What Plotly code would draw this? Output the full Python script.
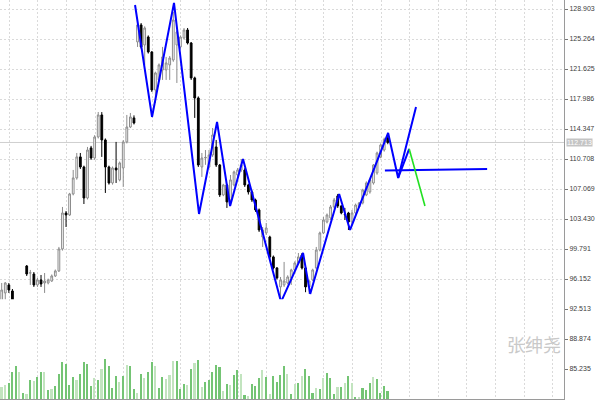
import plotly.graph_objects as go

# ---- data ----
opens = [92.40,94.46,95.43,94.70,92.88,91.79,92.03,97.73,96.88,96.76,95.43,96.04,95.67,95.67,95.91,96.52,97.13,99.80,104.16,103.92,
         106.47,108.41,110.96,109.74,105.98,112.05,110.83,113.38,116.05,113.02,109.74,107.80,109.62,108.17,109.62,112.78,114.59,115.69,124.91,126.97,
         124.54,125.51,123.69,119.08,120.30,121.51,121.51,122.12,122.72,124.54,124.30,125.39,126.36,124.78,120.54,118.11,109.74,110.83,109.74,111.20,
         112.17,109.98,106.35,107.56,105.74,107.56,108.77,109.38,109.38,107.56,106.71,105.74,104.53,101.25,101.74,101.25,98.83,97.49,95.19,95.43,
         95.67,96.28,97.25,98.10,99.07,97.49,95.19,96.04,97.49,99.67,101.74,103.07,103.56,104.89,106.23,105.01,104.00,104.16,103.07,104.16,
         104.89,105.38,106.35,106.71,107.80,109.02,110.96,111.80,113.26]
highs = [95.67,95.79,95.67,94.94,92.90,92.27,92.15,97.85,97.25,97.00,96.28,96.64,96.88,96.20,96.70,97.30,100.04,104.89,104.40,106.60,
         109.38,111.44,111.44,109.90,112.17,112.30,113.60,116.41,116.40,113.20,109.90,109.80,112.78,110.40,113.00,116.05,116.29,116.00,127.21,127.20,
         126.80,125.70,123.80,121.30,122.30,124.30,123.09,123.20,128.54,126.30,125.70,126.60,126.60,124.90,120.70,118.30,111.44,111.80,111.80,114.47,
         113.02,110.10,107.70,107.70,108.77,109.30,109.62,110.71,109.60,107.70,106.90,105.90,104.70,102.46,102.95,101.40,99.00,97.60,96.40,98.22,
         96.60,97.40,98.30,99.31,99.31,97.60,96.00,97.40,100.04,101.90,103.68,104.10,105.13,105.98,106.47,105.10,104.77,104.30,104.53,105.30,
         105.50,107.10,108.00,108.30,110.10,111.60,112.60,113.30,113.87]
lows = [92.03,93.61,94.46,92.40,91.18,89.97,91.95,96.52,95.43,95.19,95.19,95.19,94.46,95.50,95.80,96.40,97.00,99.60,102.46,103.80,
        106.30,108.20,109.50,105.25,105.80,110.60,110.60,113.20,110.96,106.59,107.60,107.60,107.80,108.00,107.32,112.60,114.46,114.90,124.30,124.10,
        122.12,123.50,118.84,117.50,120.10,120.30,120.30,120.30,122.50,119.93,124.10,125.20,124.60,120.30,115.69,109.74,108.53,110.00,109.60,110.96,
        109.74,106.10,106.20,104.77,105.13,107.40,108.53,109.14,107.32,106.40,105.50,104.30,101.86,100.04,101.49,98.60,97.30,96.10,93.61,95.19,
        95.50,95.43,97.10,98.00,97.30,94.55,94.34,95.90,97.30,99.50,101.60,102.90,103.31,104.70,104.77,104.00,103.31,102.10,102.80,104.00,
        104.80,105.20,106.20,106.50,107.60,108.80,110.80,111.60,112.50]
closes = [94.82,95.67,94.82,92.76,91.55,92.03,92.05,96.76,96.90,95.43,96.04,95.55,95.91,96.04,96.52,97.13,99.80,104.16,103.92,106.47,
          108.41,110.96,109.74,105.98,111.80,110.83,113.38,116.05,113.02,109.74,107.80,109.62,109.38,110.23,112.78,114.59,115.81,115.08,126.97,124.30,
          126.60,123.69,119.08,121.15,122.12,123.09,122.36,122.96,127.57,126.12,125.51,126.36,124.78,120.54,118.11,109.98,110.83,110.90,111.20,113.62,
          109.98,106.35,107.56,105.50,108.17,109.14,109.38,109.98,107.56,106.71,105.74,104.53,102.10,102.10,102.34,98.83,97.49,96.28,96.04,95.91,
          96.40,97.25,98.10,98.83,97.49,95.19,95.91,97.25,99.67,101.74,103.31,103.92,104.89,105.74,105.01,104.16,103.95,103.07,104.16,105.13,
          105.38,106.95,107.80,108.17,109.98,111.44,112.41,113.10,112.71]

volumes = [120,140,160,270,330,270,60,50,190,180,220,270,270,90,100,130,250,370,350,140,
           220,190,250,370,350,130,210,190,300,400,330,110,230,170,230,340,330,100,60,250,
           210,270,370,330,110,220,200,240,380,380,100,150,140,300,360,390,
           120,170,190,270,340,320,80,150,140,240,290,250,40,30,150,130,210,290,220,50,
           230,170,240,330,250,50,150,160,230,300,230,60,110,100,210,260,210,50,120,120,
           160,230,160,20,20,110,90,160,220,200,60,130,80]
vol_shade = list("llddd" "ldldl" "ddldl" "ddddd" "dlddd" "dldld" "dddld" "lddld" "lddld" "dllld" "ddldl" "d"
                 "ldddd" "dldld" "dldld" "ddldl" "ddddl" "dldld" "ddldl" "dddld" "ldldl" "dddld" "dddld" "dl")

zigzag_x = [37.3, 42.05, 48.2, 55.2, 60.24, 63.9, 67.5, 78.15, 84.3, 86.3, 94.4, 97.45, 108.1, 110.9, 115.9]
zigzag_y = [129.39, 115.81, 129.64, 104.04, 115.2, 105.01, 110.71, 93.37, 99.31, 94.34, 106.47, 102.1, 113.87, 108.41, 117.02]
branch_x = [110.9, 114.0]
branch_y = [108.41, 111.93]
level_x = [107.2, 135.8]
level_y = [109.32, 109.5]
proj_x = [114.0, 118.4]
proj_y = [111.93, 105.01]

tick_text = ["85.235","88.874","92.513","96.152","99.791","103.430","107.069",
             "110.708","114.347","117.986","121.625","125.264","128.903"]
last_price = 112.713
watermark = "张绅尧"

# ---- figure ----
n = len(opens)
idx = list(range(n))
shades = vol_shade[:n] + ["d"] * max(0, n - len(vol_shade))
vcolors = ["#74c474" if s == "d" else "#c2e4bf" for s in shades]

fig = go.Figure()
fig.add_trace(go.Bar(x=idx, y=volumes, marker=dict(color=vcolors, line=dict(width=0)),
                     width=0.45, xaxis="x", yaxis="y2", showlegend=False, hoverinfo="skip"))
fig.add_trace(go.Candlestick(x=idx, open=opens, high=highs, low=lows, close=closes,
                             increasing=dict(line=dict(color="#8c8c8c", width=1), fillcolor="#ffffff"),
                             decreasing=dict(line=dict(color="#000000", width=1), fillcolor="#000000"),
                             whiskerwidth=0, showlegend=False))
fig.add_trace(go.Scatter(x=zigzag_x, y=zigzag_y, mode="lines", line=dict(color="#0000ff", width=2), showlegend=False))
fig.add_trace(go.Scatter(x=branch_x, y=branch_y, mode="lines", line=dict(color="#0000ff", width=2), showlegend=False))
fig.add_trace(go.Scatter(x=level_x, y=level_y, mode="lines", line=dict(color="#0000ff", width=2), showlegend=False))
fig.add_trace(go.Scatter(x=proj_x, y=proj_y, mode="lines", line=dict(color="#22e022", width=1.6), showlegend=False))

fig.add_hline(y=last_price, line=dict(color="#cfcfcf", width=1), layer="below")

fig.add_annotation(x=1, xref="paper", y=last_price, yref="y", text=str(last_price), showarrow=False,
                   xanchor="left", yanchor="middle", xshift=2, bgcolor="#c4c4c4",
                   font=dict(color="#ffffff", size=7, family="Liberation Sans"), borderpad=0)
fig.add_annotation(x=534 / 564, xref="paper", y=1 - 344 / 399, yref="paper", text=watermark, showarrow=False,
                   xanchor="center", yanchor="middle",
                   font=dict(color="#c9c9c9", size=18, family="Noto Sans CJK SC"))

fig.update_layout(
    width=600, height=400,
    margin=dict(l=0, r=36, t=0, b=1),
    paper_bgcolor="#ffffff", plot_bgcolor="#ffffff",
    bargap=0,
    xaxis=dict(range=[-0.476, 157.3], showticklabels=False, rangeslider=dict(visible=False),
               showgrid=True, gridcolor="#dadada", griddash="2px,2px", gridwidth=1,
               tick0=2.13, dtick=8, zeroline=False, showline=True, linecolor="#9a9a9a", ticks=""),
    yaxis=dict(range=[81.596, 129.995], side="right", tickvals=[float(t) for t in tick_text], ticktext=tick_text,
               showgrid=True, gridcolor="#dadada", griddash="2px,2px", gridwidth=1, zeroline=False,
               showline=True, linecolor="#9a9a9a", ticks="outside", ticklen=3, tickcolor="#777777",
               tickfont=dict(size=7, color="#404040", family="Liberation Sans")),
    yaxis2=dict(domain=[0, 0.25], range=[0, 1000], visible=False, anchor="x"),
)

fig.write_html("out.html", config={"displayModeBar": False},
               post_script="document.body.style.margin='0';document.body.style.overflow='hidden';")
